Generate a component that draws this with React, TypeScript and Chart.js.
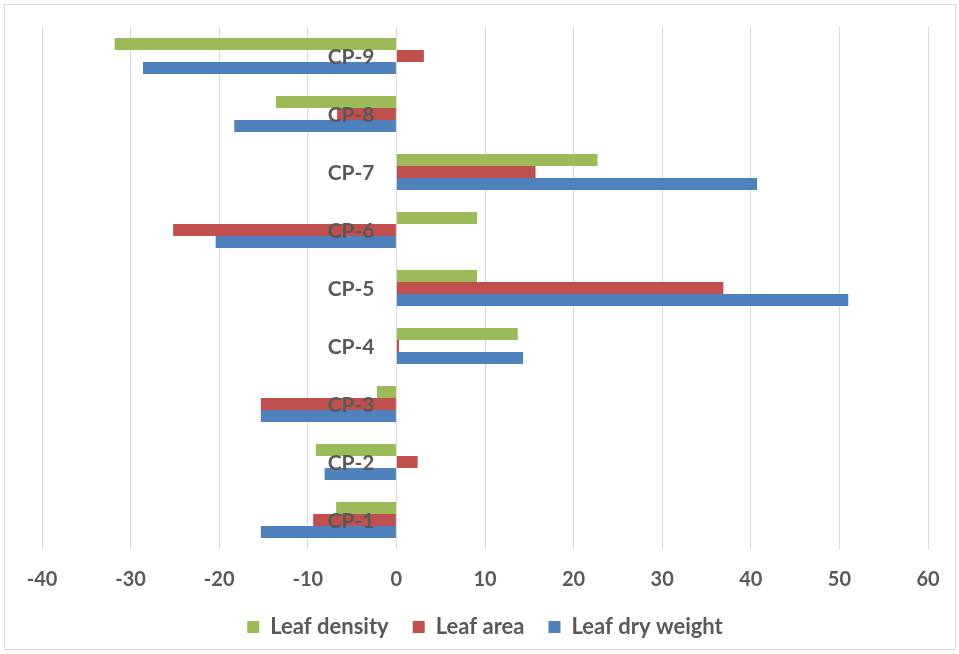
import React, { useEffect, useRef } from "react";
import { Chart, registerables } from "chart.js";

Chart.register(...registerables);

// Categories listed top to bottom as in the picture
const categories = ["CP-9", "CP-8", "CP-7", "CP-6", "CP-5", "CP-4", "CP-3", "CP-2", "CP-1"];
const leafDensity = [-31.8, -13.6, 22.7, 9.1, 9.1, 13.7, -2.2, -9.1, -6.8];
const leafArea = [3.1, -6.7, 15.7, -25.2, 36.9, 0.3, -15.3, 2.4, -9.4];
const leafDryWeight = [-28.6, -18.3, 40.7, -20.4, 51.0, 14.3, -15.3, -8.1, -15.3];
const seriesNames = ["Leaf density", "Leaf area", "Leaf dry weight"];
const seriesColors = ["#9BBB59", "#C0504D", "#4F81BD"];
const xMin = -40;
const xMax = 60;
const xStep = 10;

const FONT = "Lato, 'Open Sans', sans-serif";
const TEXT = "#595959";

// Draws the category axis labels next to the zero line, on top of the bars
const zeroAxisLabels = {
  id: "zeroAxisLabels",
  afterDatasetsDraw(chart: any) {
    const { ctx, scales } = chart;
    const xs = scales.x;
    const ys = scales.y;
    const x0 = xs.getPixelForValue(0);
    ctx.save();
    ctx.font = `bold 21px ${FONT}`;
    ctx.fillStyle = TEXT;
    ctx.textAlign = "right";
    ctx.textBaseline = "middle";
    ys.ticks.forEach((t: any, i: number) => {
      ctx.fillText(String(ys.getLabelForValue(t.value)), x0 - 22, ys.getPixelForTick(i) + 1);
    });
    ctx.restore();
  },
};

export default function App() {
  const ref = useRef<HTMLCanvasElement | null>(null);

  useEffect(() => {
    document.body.style.margin = "0";
    const ctx = ref.current;
    if (!ctx) return;
    const values = [leafDensity, leafArea, leafDryWeight];
    const chart = new Chart(ctx, {
      type: "bar",
      data: {
        labels: categories,
        datasets: values.map((v, i) => ({
          label: seriesNames[i],
          data: v,
          backgroundColor: seriesColors[i],
          borderWidth: 0,
          categoryPercentage: 0.62,
          barPercentage: 1,
        })),
      },
      options: {
        indexAxis: "y",
        animation: false,
        responsive: false,
        maintainAspectRatio: false,
        layout: { padding: { left: 37, right: 27, top: 22, bottom: 1 } },
        scales: {
          x: {
            min: xMin,
            max: xMax,
            ticks: {
              stepSize: xStep,
              padding: 0,
              color: TEXT,
              font: { family: FONT, size: 20, weight: "bold" },
            },
            grid: {
              color: "#D9D9D9",
              lineWidth: 1,
              drawTicks: true,
              tickLength: 19,
              tickColor: "rgba(0,0,0,0)",
            },
            border: { display: false },
          },
          y: {
            position: { x: 0 },
            ticks: { display: false },
            grid: { display: false, drawTicks: false },
            border: { display: false },
          },
        },
        plugins: {
          legend: {
            position: "bottom",
            labels: {
              boxWidth: 12,
              boxHeight: 12,
              padding: 24,
              color: TEXT,
              font: { family: FONT, size: 22, weight: "bold", lineHeight: 1 },
            },
          },
          tooltip: { enabled: false },
        },
      },
      plugins: [zeroAxisLabels],
    });
    return () => chart.destroy();
  }, []);

  return (
    <div
      style={{
        position: "absolute",
        left: 4,
        top: 4,
        width: 950,
        height: 644,
        border: "1px solid #D9D9D9",
        background: "#fff",
      }}
    >
      <canvas ref={ref} width={950} height={644} style={{ display: "block" }} />
    </div>
  );
}
